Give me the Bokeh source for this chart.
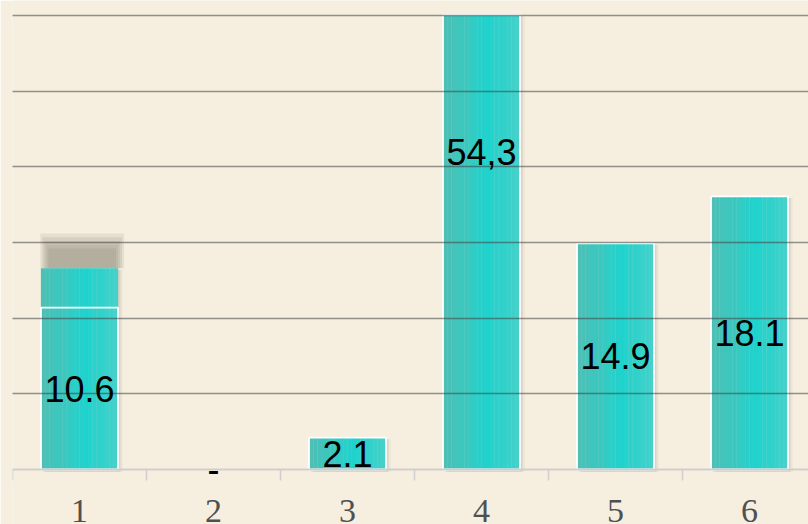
import numpy as np
from bokeh.plotting import figure
from bokeh.models import Range1d, Grid, FixedTicker, Span
from bokeh.core.properties import value
from bokeh.embed import file_html
from bokeh.resources import INLINE

# ---- data -------------------------------------------------------------
categories = ["1", "2", "3", "4", "5", "6"]
bar_heights = [21.4, 0.0, 4.2, 60.1, 29.9, 36.1]      # visual bar heights (grid step = 10)
extra_heights = [5.2, 0.0, 0.0, 0.0, 0.0, 0.0]         # extra teal block on top of bar 1
bar_labels = ["10.6", "-", "2.1", "54,3", "14.9", "18.1"]
grid_values = [10, 20, 30, 40, 50, 60]
label_override = {3: 41.9}                             # label of bar 4 sits higher

# ---- style ------------------------------------------------------------
BG = "#F6EFDF"
W = 0.575
N_STRIPS = 18
stops = [(0.0, (80, 190, 180)), (0.6, (31, 211, 205)), (1.0, (72, 208, 200))]


def grad(t):
    for (t0, c0), (t1, c1) in zip(stops[:-1], stops[1:]):
        if t0 <= t <= t1:
            f = (t - t0) / (t1 - t0)
            c = [int(round(a + (b - a) * f)) for a, b in zip(c0, c1)]
            return "#%02x%02x%02x" % tuple(c)
    return "#%02x%02x%02x" % stops[-1][1]


p = figure(width=808, height=524, output_backend="svg", toolbar_location=None,
           x_range=Range1d(0, 5.94), y_range=Range1d(-7.27, 61.99),
           x_axis_location=None, y_axis_location=None,
           min_border_left=12, min_border_right=0, min_border_top=0, min_border_bottom=0)
p.background_fill_color = BG
p.border_fill_color = BG
p.outline_line_color = None
p.center = [r for r in p.center if not isinstance(r, Grid)]

centers = np.arange(len(categories)) + 0.5
heights = np.array(bar_heights)
extras = np.array(extra_heights)
has_bar = heights > 0
has_extra = extras > 0

# soft shadows on the right of each bar
for k, (dx, a) in enumerate([(0.035, 0.06), (0.022, 0.08), (0.012, 0.10)]):
    p.vbar(x=centers[has_bar] + dx, top=(heights + extras)[has_bar] - 0.2, bottom=-0.3,
           width=W, fill_color="#6e6656", fill_alpha=a, line_color=None)

# blurred grey block above the extra part of bar 1
blur_h = 4.6
for k in range(5):
    p.vbar(x=centers[has_extra] + 0.02, bottom=(heights + extras)[has_extra],
           top=(heights + extras)[has_extra] + blur_h - k * 0.5,
           width=W + 0.05 - k * 0.03, fill_color="#6f685c", fill_alpha=0.12, line_color=None)

# gradient bars as vertical strips
for k in range(N_STRIPS):
    t = (k + 0.5) / N_STRIPS
    off = -W / 2 + t * W
    col = grad(t)
    p.vbar(x=centers[has_bar] + off, top=heights[has_bar], width=W / N_STRIPS * 1.05,
           fill_color=col, line_color=None)
    p.vbar(x=centers[has_extra] + off, bottom=heights[has_extra],
           top=(heights + extras)[has_extra], width=W / N_STRIPS * 1.05,
           fill_color=col, line_color=None)

# white outline on main bars
p.vbar(x=centers[has_bar], top=heights[has_bar], width=W, fill_color=None,
       line_color="white", line_width=1.8)

# grid lines drawn over bars
p.add_layout(Grid(dimension=1, ticker=FixedTicker(ticks=grid_values),
                  grid_line_color="#404040", grid_line_alpha=0.55, grid_line_width=1.5,
                  level="guide"))

# baseline and category boundary ticks
p.add_layout(Span(location=0, dimension="width", line_color="#cfcfcf", line_width=2))
bounds = np.arange(len(categories) + 1)
p.segment(x0=bounds, y0=0, x1=bounds, y1=-1.45, line_color="#cfcfcf", line_width=1.5)

# category labels
p.text(x=centers, y=-5.5, text=categories, text_font=value("Liberation Serif"),
       text_font_size=value("34px"), text_align="center", text_baseline="alphabetic",
       text_color="#505050")

# value labels
label_y = heights / 2
for i, yv in label_override.items():
    label_y[i] = yv
r = p.text(x=centers, y=label_y, text=bar_labels, text_font=value("Liberation Sans"),
           text_font_size=value("36px"), text_align="center", text_baseline="middle",
           text_color="black")
r.level = "annotation"

open("out.html", "w").write(file_html(p, INLINE))
